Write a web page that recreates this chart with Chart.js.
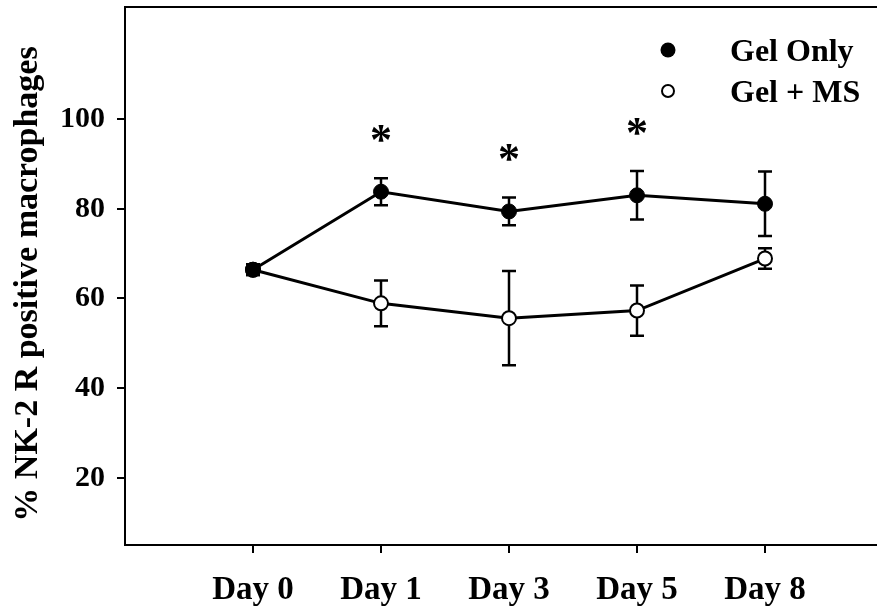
<!DOCTYPE html>
<html>
<head>
<meta charset="utf-8">
<script src="https://cdn.jsdelivr.net/npm/chart.js@4/dist/chart.umd.min.js"></script>
<style>
  html, body { margin: 0; padding: 0; background: #fff; }
  #wrap { width: 877px; height: 614px; }
</style>
</head>
<body>
<div id="wrap"><canvas id="c" width="877" height="614"></canvas></div>
<script>
// Time points
const days = ['Day 0', 'Day 1', 'Day 3', 'Day 5', 'Day 8'];

// % NK-2 R positive macrophages (mean and error)
const gelOnly    = [66.4, 83.8, 79.4, 83.0, 81.1];
const gelOnlyErr = [1.2, 3.0, 3.1, 5.4, 7.2];
const gelMS      = [66.4, 58.9, 55.6, 57.3, 68.9];
const gelMSErr   = [1.2, 5.1, 10.5, 5.6, 2.3];

// Significance markers per time point
const significance = ['', '*', '*', '*', ''];

// Y-axis tick values
const yTicks = [20, 40, 60, 80, 100];

const seriesNames = ['Gel Only', 'Gel + MS'];
const yTitle = '% NK-2 R positive macrophages';

const FONT = "'Liberation Serif', 'Times New Roman', serif";
const toPoints = (vals) => vals.map((v, i) => ({ x: i, y: v }));

// Remove the label overflow padding so the plot box fills the canvas edges
const noPad = (s) => { s.paddingTop = 0; s.paddingBottom = 0; s.paddingLeft = 0; s.paddingRight = 0; };

// Error bars, drawn beneath the markers
const errorBars = {
  id: 'errorBars',
  beforeDatasetsDraw(chart) {
    const { ctx, scales: { x, y } } = chart;
    const sets = [[gelOnly, gelOnlyErr], [gelMS, gelMSErr]];
    ctx.save();
    ctx.strokeStyle = '#000';
    ctx.lineWidth = 2.5;
    ctx.lineCap = 'butt';
    const cap = 7;
    sets.forEach(([vals, errs]) => {
      vals.forEach((v, i) => {
        const px = x.getPixelForValue(i);
        const top = y.getPixelForValue(v + errs[i]);
        const bot = y.getPixelForValue(v - errs[i]);
        ctx.beginPath();
        ctx.moveTo(px, top); ctx.lineTo(px, bot);
        ctx.moveTo(px - cap, top); ctx.lineTo(px + cap, top);
        ctx.moveTo(px - cap, bot); ctx.lineTo(px + cap, bot);
        ctx.stroke();
      });
    });
    ctx.restore();
  }
};

// Asterisks above the Gel Only error bars
const asterisks = {
  id: 'asterisks',
  afterDatasetsDraw(chart) {
    const { ctx, scales: { x, y } } = chart;
    ctx.save();
    ctx.fillStyle = '#000';
    ctx.font = 'bold 44px ' + FONT;
    ctx.textAlign = 'center';
    ctx.textBaseline = 'alphabetic';
    significance.forEach((s, i) => {
      if (!s) return;
      const px = x.getPixelForValue(i);
      const cy = y.getPixelForValue(gelOnly[i] + gelOnlyErr[i]) - 45;
      const m = ctx.measureText(s);
      const off = (m.actualBoundingBoxAscent - m.actualBoundingBoxDescent) / 2;
      ctx.fillText(s, px, cy + off);
    });
    ctx.restore();
  }
};

// Y-axis title, rotated, centred slightly below the plot's middle
const yAxisTitle = {
  id: 'yAxisTitle',
  afterDraw(chart) {
    const { ctx, chartArea } = chart;
    ctx.save();
    ctx.translate(28, (chartArea.top + chartArea.bottom) / 2 + 8);
    ctx.rotate(-Math.PI / 2);
    ctx.font = 'bold 34px ' + FONT;
    ctx.fillStyle = '#000';
    ctx.textAlign = 'center';
    ctx.textBaseline = 'middle';
    ctx.fillText(yTitle, 0, 0);
    ctx.restore();
  }
};

// Legend in the upper right of the plot
const legendBox = {
  id: 'legendBox',
  afterDraw(chart) {
    const { ctx } = chart;
    const rows = [50, 91];
    ctx.save();
    ctx.font = 'bold 32px ' + FONT;
    ctx.textAlign = 'left';
    ctx.textBaseline = 'alphabetic';
    chart.data.datasets.forEach((ds, i) => {
      const cy = rows[i];
      ctx.beginPath();
      if (i === 0) {
        ctx.arc(668, cy, 7.5, 0, Math.PI * 2);
        ctx.fillStyle = '#000';
        ctx.fill();
      } else {
        ctx.arc(668, cy, 6, 0, Math.PI * 2);
        ctx.fillStyle = '#fff';
        ctx.fill();
        ctx.lineWidth = 2;
        ctx.strokeStyle = '#000';
        ctx.stroke();
      }
      ctx.fillStyle = '#000';
      ctx.fillText(ds.label, 730, cy + 11);
    });
    ctx.restore();
  }
};

new Chart(document.getElementById('c'), {
  type: 'line',
  data: {
    datasets: [
      {
        label: seriesNames[0],
        data: toPoints(gelOnly),
        borderColor: '#000',
        borderWidth: 3,
        backgroundColor: '#000',
        pointBackgroundColor: '#000',
        pointBorderColor: '#000',
        pointBorderWidth: 1,
        pointRadius: 7.5,
        tension: 0
      },
      {
        label: seriesNames[1],
        data: toPoints(gelMS),
        borderColor: '#000',
        borderWidth: 3,
        backgroundColor: '#fff',
        pointBackgroundColor: '#fff',
        pointBorderColor: '#000',
        pointBorderWidth: 2,
        pointRadius: 7,
        tension: 0
      }
    ]
  },
  options: {
    responsive: false,
    animation: false,
    events: [],
    layout: { autoPadding: false, padding: { top: 7, left: 0, right: 0, bottom: 0 } },
    plugins: {
      legend: { display: false },
      tooltip: { enabled: false }
    },
    scales: {
      x: {
        type: 'linear',
        position: 'bottom',
        min: -1,
        max: 4.875,
        afterBuildTicks: (s) => { s.ticks = days.map((_, i) => ({ value: i })); },
        afterFit: (s) => { s.height = 69; noPad(s); },
        border: { display: true, color: '#000', width: 2 },
        grid: { display: true, drawOnChartArea: false, drawTicks: true, tickLength: 8, color: '#000', lineWidth: 2 },
        ticks: {
          color: '#000',
          padding: 18,
          maxRotation: 0,
          autoSkip: false,
          font: { family: FONT, size: 33, weight: 'bold' },
          callback: (v) => days[v]
        }
      },
      xTop: {
        type: 'linear',
        position: 'top',
        min: -1,
        max: 4.875,
        afterFit: (s) => { s.height = 0; noPad(s); },
        border: { display: true, color: '#000', width: 2 },
        grid: { display: false },
        ticks: { display: false }
      },
      y: {
        type: 'linear',
        min: 5,
        max: 125,
        afterBuildTicks: (s) => { s.ticks = yTicks.map((v) => ({ value: v })); },
        afterFit: (s) => { s.width = 125; noPad(s); },
        border: { display: true, color: '#000', width: 2 },
        grid: { display: true, drawOnChartArea: false, drawTicks: true, tickLength: 8, color: '#000', lineWidth: 2 },
        ticks: {
          color: '#000',
          padding: 12,
          font: { family: FONT, size: 30, weight: 'bold' }
        }
      }
    }
  },
  plugins: [errorBars, asterisks, yAxisTitle, legendBox]
});
</script>
</body>
</html>
